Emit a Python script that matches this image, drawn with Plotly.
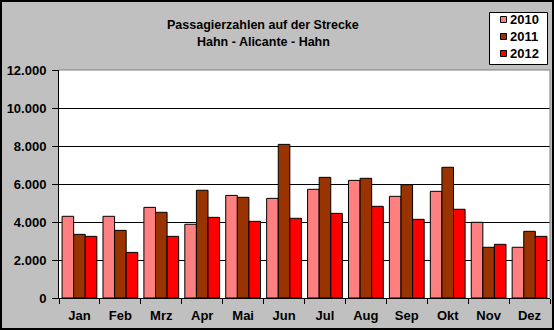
import plotly.graph_objects as go

months = ["Jan", "Feb", "Mrz", "Apr", "Mai", "Jun", "Jul", "Aug", "Sep", "Okt", "Nov", "Dez"]
v2010 = [4300, 4300, 4770, 3880, 5400, 5245, 5720, 6190, 5350, 5615, 3985, 2670]
v2011 = [3350, 3560, 4510, 5670, 5300, 8085, 6350, 6300, 5965, 6880, 2670, 3510]
v2012 = [3245, 2400, 3245, 4245, 4035, 4195, 4455, 4825, 4140, 4670, 2825, 3245]
years = ["2010", "2011", "2012"]
colors = ["#FF8080", "#993300", "#FF0000"]
yticks = [0, 2000, 4000, 6000, 8000, 10000, 12000]
ylabels = ["0", "2.000", "4.000", "6.000", "8.000", "10.000", "12.000"]
title_lines = ["Passagierzahlen auf der Strecke", "Hahn - Alicante - Hahn"]

FONT = "Liberation Sans, Arial, sans-serif"
fig = go.Figure()
for name, vals, c in zip(years, [v2010, v2011, v2012], colors):
    fig.add_trace(go.Bar(x=months, y=vals, name=name, showlegend=False,
                         marker=dict(color=c, line=dict(color="black", width=1))))

W, H = 554, 330
L, R, T, B = 59, 4, 70, 32
pw, ph = W - L - R, H - T - B

def px(x):
    return (x - L) / pw

def py(y):
    return (H - B - y) / ph

shapes = [
    dict(type="line", xref="paper", yref="paper", x0=0, x1=1, y0=1, y1=1, line=dict(color="#808080", width=1)),
    dict(type="line", xref="paper", yref="paper", x0=1, x1=1, y0=0, y1=1, line=dict(color="#808080", width=1)),
    dict(type="rect", xref="paper", yref="paper", x0=px(1), x1=px(W - 1), y0=py(1), y1=py(H - 1),
         line=dict(color="black", width=2), layer="above"),
    # legend box
    dict(type="rect", xref="paper", yref="paper", x0=px(489.5), x1=px(547.5), y0=py(12.5), y1=py(64.5),
         line=dict(color="black", width=1), fillcolor="white", layer="above"),
]
annotations = []
for i, (name, c) in enumerate(zip(years, colors)):
    yc = 19.5 + i * 17
    shapes.append(dict(type="rect", xref="paper", yref="paper", x0=px(500.5), x1=px(506.5),
                       y0=py(yc - 3), y1=py(yc + 3), line=dict(color="black", width=1), fillcolor=c, layer="above"))
    annotations.append(dict(text=name, xref="paper", yref="paper", x=px(508), y=py(yc), xanchor="left",
                            yanchor="middle", showarrow=False,
                            font=dict(family=FONT, size=13, color="black", weight="bold")))
for i, t in enumerate(title_lines):
    annotations.append(dict(text=t, xref="paper", yref="paper", x=px(263), y=py(25 + i * 17), xanchor="center",
                            yanchor="middle", showarrow=False,
                            font=dict(family=FONT, size=12.5, color="black", weight="bold")))

fig.update_layout(
    width=W, height=H,
    margin=dict(l=L, r=R, t=T, b=B, pad=0),
    paper_bgcolor="#C0C0C0",
    plot_bgcolor="white",
    barmode="group",
    bargap=0.15,
    bargroupgap=0,
    font=dict(family=FONT, size=13, color="black", weight="bold"),
    xaxis=dict(showline=True, linecolor="black", linewidth=1, ticks="outside", tickson="boundaries",
               ticklen=5, tickcolor="black", showgrid=False, ticklabelstandoff=5,
               tickfont=dict(family=FONT, size=13, weight="bold"), fixedrange=True),
    yaxis=dict(range=[0, 12000], tickvals=yticks, ticktext=ylabels, showline=True, linecolor="black",
               linewidth=1, ticks="outside", ticklen=6, tickcolor="black", gridcolor="black", gridwidth=1,
               zeroline=False, ticklabelstandoff=3, tickfont=dict(family=FONT, size=13, weight="bold"),
               fixedrange=True),
    shapes=shapes,
    annotations=annotations,
)

fig.write_html("out.html")
